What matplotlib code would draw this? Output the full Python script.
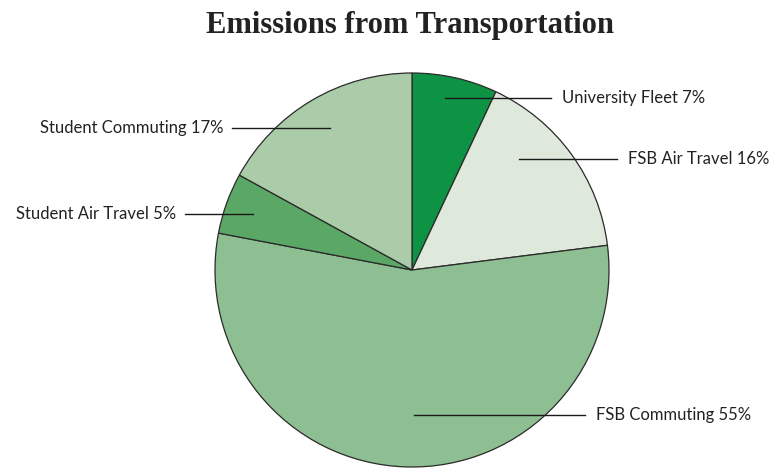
import matplotlib
matplotlib.use("Agg")
import matplotlib.pyplot as plt

categories = ["University Fleet", "FSB Air Travel", "FSB Commuting", "Student Air Travel", "Student Commuting"]
values = [7, 16, 55, 5, 17]
colors = ["#0e9244", "#dee9dc", "#8ebf92", "#5ba766", "#abcca8"]

W, H = 770, 468
fig = plt.figure(figsize=(W / 100, H / 100), dpi=100)
ax = fig.add_axes([0, 0, 1, 1])
ax.set_xlim(0, W)
ax.set_ylim(0, H)
ax.set_aspect("equal")
ax.axis("off")

cx, cy, r = 412, H - 270, 197
wedges, _ = ax.pie(values, colors=colors, startangle=90, counterclock=False,
                   center=(cx, cy), radius=r,
                   wedgeprops=dict(edgecolor="#2a2a2a", linewidth=0.9))
ax.set_xlim(0, W)
ax.set_ylim(0, H)

# leader line layout: (line start x, line end x, y in pixels, text side)
layout = [
    (445, 551, 98, "right"),
    (519, 617, 159, "right"),
    (414, 585, 415, "right"),
    (253, 185, 214, "left"),
    (330, 232, 128, "left"),
]
for cat, val, (x0, x1, yp, side) in zip(categories, values, layout):
    y = H - yp
    ax.plot([x0, x1], [y, y], color="#1a1a1a", linewidth=1.0)
    if side == "right":
        ax.text(x1 + 11, y, f"{cat} {val}%", ha="left", va="center",
                fontsize=12, family="Lato", color="#222222")
    else:
        ax.text(x1 - 9, y, f"{cat} {val}%", ha="right", va="center",
                fontsize=12, family="Lato", color="#222222")

fig.text(410 / W, 1 - 25 / H, "Emissions from Transportation", ha="center", va="center",
         fontsize=22, family="Liberation Serif", fontweight="bold", color="#222222")

fig.savefig("out.png", dpi=100, facecolor="white")
